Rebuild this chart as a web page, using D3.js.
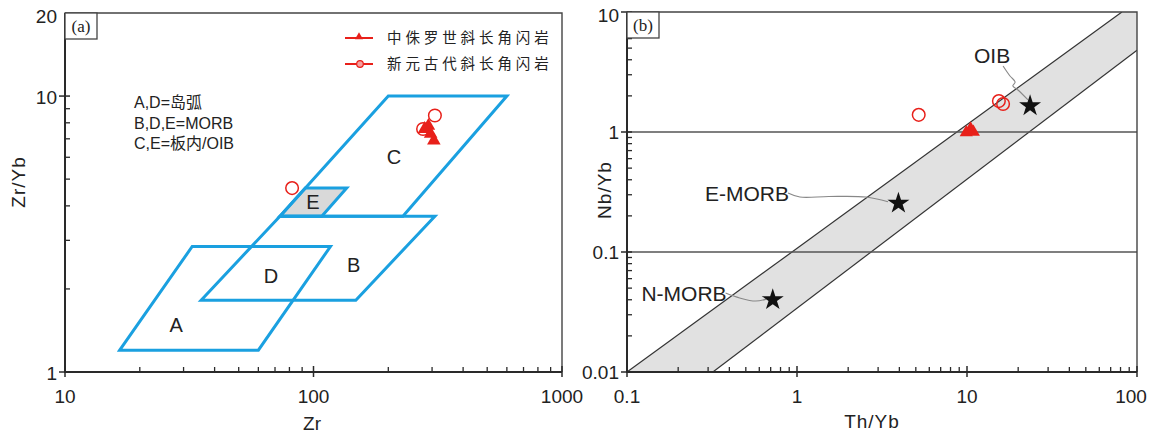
<!DOCTYPE html>
<html>
<head>
<meta charset="utf-8">
<script src="https://cdn.jsdelivr.net/npm/d3@7"></script>
<style>
  body { margin: 0; background: #fff; }
  svg { display: block; }
  text { font-family: "Liberation Sans", Arial, sans-serif; fill: #222; }
  .cjk { font-family: "Noto Sans CJK SC", "Liberation Sans", sans-serif; }
  .mixed { font-family: "Liberation Sans", Arial, "Noto Sans CJK SC", sans-serif; }
  .serif { font-family: "Liberation Serif", "Times New Roman", serif; }
</style>
</head>
<body>
<svg id="chart" width="1149" height="435"></svg>
<script>
// ---------- Panel (a): Zr vs Zr/Yb ----------
const zrMajor = [10, 100, 1000];
const zrMinor = [20, 30, 40, 50, 60, 70, 80, 90, 200, 300, 400, 500, 600, 700, 800, 900];
const zrYbMajor = [1, 10, 20];
const zrYbMinor = [2, 3, 4, 5, 6, 7, 8, 9];

// discrimination fields (Zr, Zr/Yb)
const fieldA = [[16.6, 1.2], [32.5, 2.85], [117, 2.85], [60, 1.2]];
const fieldB = [[35.3, 1.82], [73.3, 3.67], [308, 3.67], [148, 1.82]];
const fieldC = [[73.3, 3.67], [200, 10], [600, 10], [229, 3.67]];
const fieldE = [[73.3, 3.67], [92.7, 4.64], [136, 4.64], [108, 3.67]];
const fieldLabels = ["A", "B", "C", "D", "E"];
const fieldLabelPos = [[28, 1.48], [145, 2.44], [211, 6.0], [67.5, 2.23], [99.5, 4.13]];

const seriesNames = ["中侏罗世斜长角闪岩", "新元古代斜长角闪岩"];
const notes = ["A,D=岛弧", "B,D,E=MORB", "C,E=板内/OIB"];

// samples: Middle Jurassic (triangles), Neoproterozoic (circles)
const jurassicZr = [
  [280, 7.6], [290, 7.8], [296, 7.3], [305, 6.9]
];
const neoZr = [
  [276, 7.6], [308, 8.5], [82, 4.64]
];

// ---------- Panel (b): Th/Yb vs Nb/Yb ----------
const thMajor = [0.1, 1, 10, 100];
const thMinor = [0.2,0.3,0.4,0.5,0.6,0.7,0.8,0.9, 2,3,4,5,6,7,8,9, 20,30,40,50,60,70,80,90];
const nbMajor = [0.01, 0.1, 1, 10];
const nbMinor = [0.02,0.03,0.04,0.05,0.06,0.07,0.08,0.09, 0.2,0.3,0.4,0.5,0.6,0.7,0.8,0.9, 2,3,4,5,6,7,8,9];
const nbLabels = ["0.01", "0.1", "1", "10"];
const thLabels = ["0.1", "1", "10", "100"];

// MORB-OIB array boundaries
const arrayUpper = [[0.1, 0.01], [81.5, 10]];
const arrayLower = [[0.32, 0.01], [100, 4.8]];
const refLines = [1, 0.1];

// reference compositions
const refNames = ["N-MORB", "E-MORB", "OIB"];
const refPoints = [[0.72, 0.04], [3.95, 0.255], [23.5, 1.65]];
const leaderN = [[0.38, 0.0455], [0.46, 0.0414], [0.57, 0.039], [0.66, 0.0405]];
const leaderE = [[0.885, 0.31], [1.04, 0.287], [1.54, 0.29], [2.55, 0.287], [3.43, 0.262]];
const leaderO = [[16.3, 3.55], [17.9, 2.93], [19.2, 2.61], [18.6, 2.42], [19.95, 2.24], [22.85, 1.85]];

const jurassicTh = [[9.9, 0.99], [10.5, 1.06], [10.9, 1.0]];
const neoTh = [[5.2, 1.39], [15.4, 1.81], [16.3, 1.71]];

const RED = "#e8201a";
const BLUE = "#1aa0e0";
const INK = "#2a2a2a";

const svg = d3.select("#chart");

function drawAxes(g, x, y, xMaj, xMin, yMaj, yMin) {
  const [x0, x1] = x.range();
  const [y0, y1] = y.range();
  const ax = g.append("g").attr("stroke", INK).attr("fill", "none");
  // frame
  ax.append("path").attr("d", `M${x0},${y1}H${x1}V${y0}`).attr("stroke-width", 1.4).attr("stroke", "#444");
  ax.append("path").attr("d", `M${x0},${y1}V${y0}H${x1}`).attr("stroke-width", 2);
  // x ticks
  xMaj.forEach(v => ax.append("line").attr("x1", x(v)).attr("x2", x(v)).attr("y1", y0 + 5).attr("y2", y0 - 6).attr("stroke-width", 1.5));
  xMin.forEach(v => ax.append("line").attr("x1", x(v)).attr("x2", x(v)).attr("y1", y0).attr("y2", y0 - 5).attr("stroke-width", 1.3));
  // y ticks
  yMaj.forEach(v => ax.append("line").attr("x1", x0 - 6).attr("x2", x0 + 5).attr("y1", y(v)).attr("y2", y(v)).attr("stroke-width", 1.5));
  yMin.forEach(v => ax.append("line").attr("x1", x0).attr("x2", x0 + 5).attr("y1", y(v)).attr("y2", y(v)).attr("stroke-width", 1.3));
}

// ===== Panel (a) =====
const xA = d3.scaleLog().domain([10, 1000]).range([65, 562]);
const yA = d3.scaleLog().domain([1, 20]).range([372, 13]);
const gA = svg.append("g");

const poly = d3.line().x(d => xA(d[0])).y(d => yA(d[1])).curve(d3.curveLinearClosed);
gA.append("path").attr("d", poly(fieldE)).attr("fill", "#d9d9d9").attr("stroke", "none");
[fieldA, fieldB, fieldC, fieldE].forEach(f => {
  gA.append("path").attr("d", poly(f)).attr("fill", "none")
    .attr("stroke", BLUE).attr("stroke-width", 3).attr("stroke-linejoin", "miter");
});
gA.selectAll("text.field").data(fieldLabels).join("text")
  .attr("x", (d, i) => xA(fieldLabelPos[i][0]))
  .attr("y", (d, i) => yA(fieldLabelPos[i][1]))
  .attr("dy", "0.36em").attr("text-anchor", "middle")
  .attr("font-size", 20).text(d => d);

// samples
gA.selectAll("circle.neo").data(neoZr).join("circle")
  .attr("cx", d => xA(d[0])).attr("cy", d => yA(d[1])).attr("r", 6.3)
  .attr("fill", "none").attr("stroke", RED).attr("stroke-width", 1.5);
gA.selectAll("path.jur").data(jurassicZr).join("path")
  .attr("transform", d => `translate(${xA(d[0])},${yA(d[1])})`)
  .attr("d", d3.symbol(d3.symbolTriangle, 80)).attr("fill", RED);

drawAxes(gA, xA, yA, zrMajor, zrMinor, [1, 10], zrYbMinor);

// tick labels
gA.selectAll("text.xt").data(zrMajor).join("text")
  .attr("x", d => xA(d)).attr("y", 403).attr("text-anchor", "middle")
  .attr("font-size", 19).text(d => d);
gA.selectAll("text.yt").data(zrYbMajor).join("text")
  .attr("x", 57).attr("y", d => yA(d) + (d === 20 ? 3 : 1)).attr("dy", "0.36em")
  .attr("text-anchor", "end").attr("font-size", 19).text(d => d);
gA.append("text").attr("x", 312).attr("y", 430).attr("text-anchor", "middle")
  .attr("font-size", 19).text("Zr");
gA.append("text").attr("transform", "translate(25,182) rotate(-90)")
  .attr("text-anchor", "middle").attr("font-size", 19).attr("letter-spacing", 1).text("Zr/Yb");

// panel tag
gA.append("rect").attr("x", 65).attr("y", 13).attr("width", 32).attr("height", 26)
  .attr("fill", "#fff").attr("stroke", "#444").attr("stroke-width", 1.3);
gA.append("text").attr("class", "serif").attr("x", 81).attr("y", 32)
  .attr("text-anchor", "middle").attr("font-size", 17).text("(a)");

// notes
gA.selectAll("text.note").data(notes).join("text").attr("class", "mixed")
  .attr("x", 134).attr("y", (d, i) => 108 + i * 20.5)
  .attr("font-size", 16).text(d => d);

// legend
const lg = gA.append("g");
seriesNames.forEach((name, i) => {
  const ly = 38 + i * 26;
  lg.append("line").attr("x1", 345).attr("x2", 373).attr("y1", ly).attr("y2", ly)
    .attr("stroke", RED).attr("stroke-width", 2);
  if (i === 0) {
    lg.append("path").attr("transform", `translate(359,${ly - 1})`)
      .attr("d", d3.symbol(d3.symbolTriangle, 28)).attr("fill", RED);
  } else {
    lg.append("circle").attr("cx", 360).attr("cy", ly).attr("r", 3.3)
      .attr("fill", "#f6a0a0").attr("stroke", RED).attr("stroke-width", 1.2);
  }
  lg.append("text").attr("class", "cjk").attr("x", 387).attr("y", ly).attr("dy", "0.36em")
    .attr("font-size", 14.5).attr("letter-spacing", 3.9).attr("fill", "#333").text(name);
});

// ===== Panel (b) =====
const xB = d3.scaleLog().domain([0.1, 100]).range([627, 1137]);
const yB = d3.scaleLog().domain([0.01, 10]).range([372, 12]);
const gB = svg.append("g");

svg.append("defs").append("clipPath").attr("id", "clipB").append("rect")
  .attr("x", 627).attr("y", 12).attr("width", 510).attr("height", 360);
const band = gB.append("g").attr("clip-path", "url(#clipB)");
const bandPoly = [arrayUpper[0], arrayUpper[1], [100, 10], arrayLower[1], arrayLower[0]];
band.append("path")
  .attr("d", d3.line().x(d => xB(d[0])).y(d => yB(d[1])).curve(d3.curveLinearClosed)(bandPoly))
  .attr("fill", "#e1e1e1");
[arrayUpper, arrayLower].forEach(l => {
  band.append("line").attr("x1", xB(l[0][0])).attr("y1", yB(l[0][1]))
    .attr("x2", xB(l[1][0])).attr("y2", yB(l[1][1]))
    .attr("stroke", "#333").attr("stroke-width", 1.2);
});
refLines.forEach(v => {
  gB.append("line").attr("x1", xB(0.1)).attr("x2", xB(100)).attr("y1", yB(v)).attr("y2", yB(v))
    .attr("stroke", "#555").attr("stroke-width", 1.5);
});

// leaders
const lead = d3.line().x(d => xB(d[0])).y(d => yB(d[1])).curve(d3.curveCatmullRom);
[leaderN, leaderE, leaderO].forEach(l => {
  gB.append("path").attr("d", lead(l)).attr("fill", "none")
    .attr("stroke", "#888").attr("stroke-width", 1.1);
});

// reference stars
gB.selectAll("path.star").data(refPoints).join("path")
  .attr("transform", d => `translate(${xB(d[0])},${yB(d[1])})`)
  .attr("d", d3.symbol(d3.symbolStar, 150)).attr("fill", "#111");

// reference labels
gB.append("text").attr("x", xB(leaderN[0][0]) + 1).attr("y", yB(leaderN[0][1])).attr("dy", "0.36em")
  .attr("text-anchor", "end").attr("font-size", 21).text(refNames[0]);
gB.append("text").attr("x", xB(leaderE[0][0]) + 1).attr("y", yB(leaderE[0][1])).attr("dy", "0.36em")
  .attr("text-anchor", "end").attr("font-size", 21).text(refNames[1]);
gB.append("text").attr("x", xB(leaderO[0][0]) - 11).attr("y", yB(leaderO[0][1]) - 3)
  .attr("text-anchor", "middle").attr("font-size", 21).text(refNames[2]);

// samples
gB.selectAll("circle.neo").data(neoTh).join("circle")
  .attr("cx", d => xB(d[0])).attr("cy", d => yB(d[1])).attr("r", 6.3)
  .attr("fill", "none").attr("stroke", RED).attr("stroke-width", 1.5);
gB.selectAll("path.jur").data(jurassicTh).join("path")
  .attr("transform", d => `translate(${xB(d[0])},${yB(d[1])})`)
  .attr("d", d3.symbol(d3.symbolTriangle, 75)).attr("fill", RED);

drawAxes(gB, xB, yB, thMajor, thMinor, nbMajor, nbMinor);

gB.selectAll("text.xt").data(thMajor).join("text")
  .attr("x", d => xB(d) + (d === 100 ? -6 : 0)).attr("y", 403).attr("text-anchor", "middle")
  .attr("font-size", 19).text((d, i) => thLabels[i]);
gB.selectAll("text.yt").data(nbMajor).join("text")
  .attr("x", 619).attr("y", d => yB(d) + (d === 10 ? 3 : 0)).attr("dy", "0.36em")
  .attr("text-anchor", "end").attr("font-size", 19).text((d, i) => nbLabels[i]);
gB.append("text").attr("x", 872).attr("y", 428).attr("text-anchor", "middle")
  .attr("font-size", 19).attr("letter-spacing", 1).text("Th/Yb");
gB.append("text").attr("transform", "translate(611,190) rotate(-90)")
  .attr("text-anchor", "middle").attr("font-size", 19).attr("letter-spacing", 1).text("Nb/Yb");

gB.append("rect").attr("x", 627).attr("y", 12).attr("width", 32).attr("height", 26)
  .attr("fill", "#fff").attr("stroke", "#444").attr("stroke-width", 1.3);
gB.append("text").attr("class", "serif").attr("x", 643).attr("y", 31)
  .attr("text-anchor", "middle").attr("font-size", 17).text("(b)");
</script>
</body>
</html>
